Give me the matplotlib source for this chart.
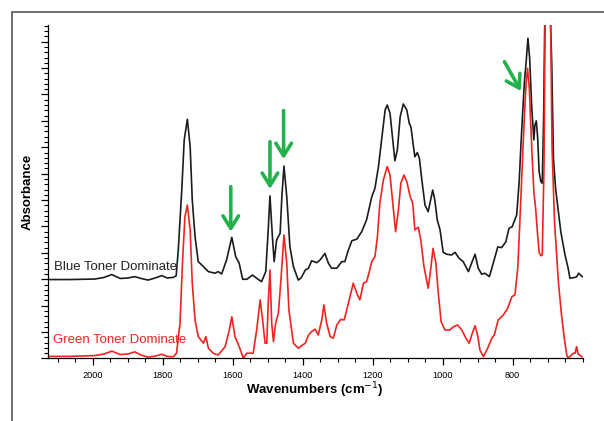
import matplotlib
matplotlib.use("Agg")
import matplotlib.pyplot as plt
from matplotlib.lines import Line2D
from matplotlib.ticker import MultipleLocator
import numpy as np

plt.rcParams['font.family'] = ['Liberation Sans', 'DejaVu Sans']

# Blue toner dominate spectrum (offset trace, black)
blue_wn = [2128, 2064, 1993, 1967, 1945, 1921, 1899, 1879, 1861, 1841, 1821, 1802, 1787, 1770,
           1761, 1755, 1745, 1738, 1729, 1721, 1715, 1707, 1698, 1683, 1669, 1650, 1641, 1631,
           1617, 1602, 1591, 1581, 1571, 1559, 1543, 1531, 1517, 1505, 1498, 1493, 1486, 1481,
           1474, 1464, 1459, 1453, 1445, 1436, 1426, 1412, 1404, 1392, 1383, 1374, 1359, 1350,
           1336, 1326, 1317, 1302, 1288, 1279, 1269, 1259, 1245, 1231, 1217, 1202, 1193, 1183,
           1174, 1164, 1158, 1150, 1142, 1136, 1129, 1121, 1112, 1102, 1095, 1090, 1083, 1079,
           1072, 1066, 1059, 1050, 1041, 1034, 1028, 1022, 1015, 1007, 998, 988, 974, 964, 953,
           941, 926, 917, 907, 898, 888, 879, 866, 855, 842, 831, 819, 810, 801, 788, 781, 774,
           766, 761, 756, 751, 745, 739, 736, 732, 728, 724, 719, 715, 711, 708, 699, 688, 686,
           683, 677, 669, 662, 650, 641, 636, 626, 617, 611, 601]
blue_abs = [2.99, 2.99, 3.01, 3.07, 3.18, 3.03, 3.05, 3.10, 3.03, 2.97, 3.05, 3.14, 3.05, 3.07,
            3.13, 4.11, 6.38, 8.28, 9.06, 8.02, 6.00, 4.61, 3.67, 3.48, 3.29, 3.23, 3.29, 3.20,
            3.73, 4.59, 3.86, 3.61, 3.00, 3.00, 3.16, 3.04, 2.91, 3.29, 4.87, 6.16, 4.61, 3.67,
            4.49, 4.74, 6.13, 7.29, 6.13, 4.23, 3.48, 2.97, 3.05, 3.35, 3.42, 3.70, 3.63, 3.73,
            3.98, 3.61, 3.42, 3.42, 3.67, 3.67, 4.11, 4.46, 4.52, 4.80, 5.25, 6.13, 6.45, 7.27,
            8.28, 9.41, 9.60, 9.29, 8.28, 7.49, 7.90, 9.16, 9.64, 9.41, 8.91, 8.76, 8.02, 7.64,
            7.80, 7.58, 6.76, 5.81, 5.56, 6.00, 6.38, 6.00, 5.25, 4.87, 4.02, 3.95, 3.92, 4.02, 3.80,
            3.67, 3.29, 3.61, 3.95, 3.42, 3.19, 3.23, 3.10, 3.61, 4.23, 4.20, 4.42, 4.93, 4.99, 5.44,
            6.70, 8.59, 10.48, 11.24, 12.13, 11.37, 9.48, 8.28, 8.84, 9.00, 8.34, 7.08, 6.70, 6.64,
            9.22, 12.63, 16.0, 11.24, 9.73, 7.58, 6.45, 5.56, 4.80, 3.92, 3.42, 3.04, 3.06, 3.09,
            3.23, 3.10]

# Green toner dominate spectrum (red)
green_wn = [2128, 2064, 1993, 1967, 1945, 1921, 1899, 1879, 1861, 1841, 1821, 1802, 1787, 1770,
            1760, 1750, 1743, 1736, 1729, 1721, 1715, 1707, 1698, 1683, 1676, 1669, 1655, 1641,
            1621, 1609, 1602, 1593, 1581, 1569, 1559, 1541, 1531, 1521, 1515, 1507, 1502, 1498,
            1493, 1488, 1483, 1477, 1469, 1461, 1453, 1445, 1439, 1426, 1412, 1404, 1392, 1383,
            1374, 1364, 1355, 1345, 1339, 1331, 1321, 1312, 1302, 1291, 1281, 1269, 1255, 1243,
            1236, 1226, 1217, 1209, 1202, 1193, 1186, 1179, 1169, 1158, 1150, 1142, 1134, 1126,
            1119, 1110, 1102, 1093, 1085, 1079, 1069, 1062, 1053, 1041, 1034, 1027, 1019, 1012,
            1004, 993, 979, 969, 957, 945, 934, 924, 915, 907, 899, 893, 883, 871, 859, 852, 841,
            826, 814, 802, 793, 785, 779, 772, 766, 761, 757, 752, 745, 739, 734, 729, 724, 719,
            715, 710, 707, 699, 691, 687, 680, 669, 660, 652, 645, 641, 633, 626, 621, 617, 612,
            602]
green_abs = [0.08, 0.08, 0.11, 0.17, 0.28, 0.15, 0.17, 0.25, 0.13, 0.05, 0.09, 0.16, 0.08, 0.06,
             0.20, 1.33, 3.61, 5.37, 5.81, 4.87, 2.85, 1.46, 0.83, 0.58, 0.83, 0.39, 0.20, 0.13,
             0.45, 1.08, 1.58, 0.83, 0.45, 0.01, 0.20, 0.20, 1.08, 2.22, 1.58, 0.58, 0.58, 2.09,
             3.35, 1.33, 0.64, 1.33, 1.71, 3.10, 4.68, 3.61, 1.84, 0.58, 0.39, 0.47, 0.58, 0.89,
             1.02, 1.11, 0.89, 1.46, 2.03, 1.33, 0.83, 0.77, 1.27, 1.48, 1.46, 2.09, 2.85, 2.41,
             2.22, 2.85, 2.91, 3.29, 3.67, 3.86, 4.61, 5.88, 6.76, 7.27, 6.95, 5.88, 4.80, 5.63,
             6.64, 6.95, 6.70, 6.16, 5.88, 4.87, 4.97, 4.49, 3.48, 2.66, 3.35, 4.17, 3.61, 2.47,
             1.39, 1.08, 1.08, 1.20, 1.27, 1.08, 0.79, 0.58, 0.95, 1.24, 0.83, 0.32, 0.07, 0.39,
             0.77, 0.89, 1.46, 1.65, 1.90, 2.34, 2.41, 3.42, 5.18, 7.33, 9.22, 10.48, 10.99, 10.23,
             7.96, 6.32, 5.69, 4.80, 4.02, 3.89, 3.92, 7.33, 12.63, 16.0, 12.63, 7.96, 5.18, 2.91,
             1.65, 0.77, 0.13, 0.01, 0.11, 0.20, 0.20, 0.45, 0.16, 0.07]

# arrows: (tail wn, tail abs, tip wn, tip abs)
arrows = [(1605, 6.51, 1605, 4.80),
          (1493, 8.21, 1493, 6.42),
          (1454, 9.39, 1454, 7.55),
          (823, 11.24, 776, 10.13)]

xticks = [2000, 1800, 1600, 1400, 1200, 1000, 800]

fig = plt.figure(figsize=(6.04, 4.21), dpi=100)
ax = fig.add_axes([0.079, 0.1485, 0.886, 0.792])

ax.plot(blue_wn, blue_abs, color='#1c1c1c', lw=1.2)
ax.plot(green_wn, green_abs, color='#ee2420', lw=1.2)

for x0, y0, x1, y1 in arrows:
    ax.annotate('', xy=(x1, y1), xytext=(x0, y0),
                arrowprops=dict(arrowstyle='->,head_length=0.45,head_width=0.28',
                                color='#22b14c', lw=2.6, mutation_scale=20,
                                shrinkA=0, shrinkB=0))

ax.text(2110, 3.37, 'Blue Toner Dominate', color='#222222', fontsize=9.5, va='baseline')
ax.text(2113, 0.60, 'Green Toner Dominate', color='#ee2420', fontsize=9.5, va='baseline')

ax.set_xlim(2128, 599)
ax.set_ylim(0, 12.63)
ax.set_xticks(xticks)
ax.xaxis.set_minor_locator(MultipleLocator(50))
ax.yaxis.set_major_locator(MultipleLocator(1))
ax.yaxis.set_minor_locator(MultipleLocator(0.2))
ax.set_yticklabels([])
ax.tick_params(axis='both', which='major', direction='out', length=5, width=0.9, labelsize=6.6)
ax.tick_params(axis='both', which='minor', direction='out', length=3, width=0.8)
ax.tick_params(axis='x', pad=4)
for s in ['top', 'right']:
    ax.spines[s].set_visible(False)
for s in ['left', 'bottom']:
    ax.spines[s].set_linewidth(0.9)

ax.set_xlabel('Wavenumbers (cm$^{-1}$)', fontsize=9.5, fontweight='bold', labelpad=0.5)
ax.set_ylabel('Absorbance', fontsize=9.5, fontweight='bold', labelpad=1.5)

# outer frame (only top and left edges are visible)
fig.add_artist(Line2D([12 / 604, 12 / 604, 1.01], [-0.01, 1 - 11.5 / 421, 1 - 11.5 / 421],
                      color='#555555', lw=1.2, transform=fig.transFigure))

fig.savefig('out.png', dpi=100)
